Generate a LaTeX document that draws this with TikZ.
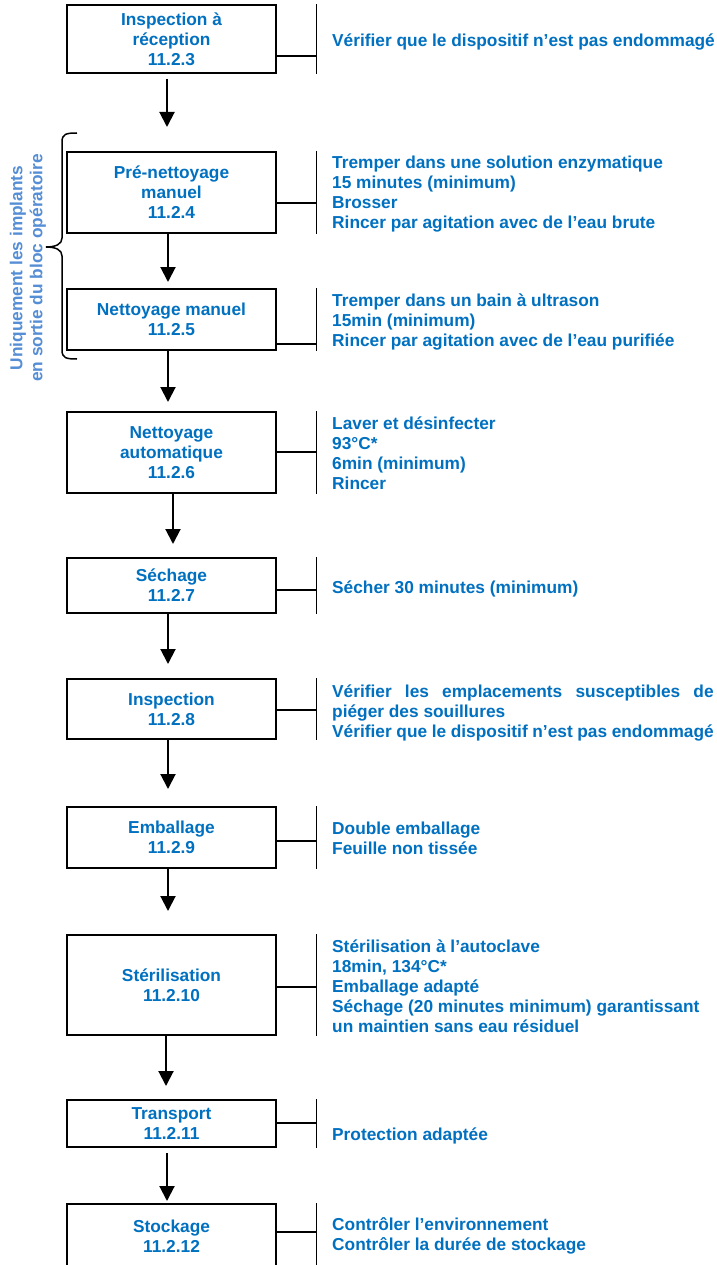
\documentclass[tikz,border=0pt]{standalone}
\usepackage{fontspec}
\setmainfont{Liberation Sans}
\usetikzlibrary{arrows.meta,calc}
\definecolor{txtblue}{RGB}{0,112,192}
\definecolor{sideblue}{RGB}{85,142,213}
\begin{document}
\begin{tikzpicture}[x=1pt,y=-1pt,
  stepbox/.style={draw,line width=2pt,minimum width=209pt,inner sep=0pt,align=center,text=txtblue,font=\fontsize{17.3}{20}\selectfont\bfseries},
  desc/.style={anchor=base west,inner sep=0pt,text=txtblue,font=\fontsize{17.3}{20}\selectfont\bfseries},
  arr/.style={line width=2pt,-{Triangle[length=15pt,width=15pt]}},
  link/.style={line width=1.3pt},
  bar/.style={line width=1pt}]
\clip (0,0) rectangle (716,1265);
\fill[white] (0,0) rectangle (716,1265);

% boxes
\node[stepbox,minimum height=68pt]  (b1)  at (171.5,39)   {Inspection à\\réception\\11.2.3};
\node[stepbox,minimum height=81pt]  (b2)  at (171.5,192.5) {Pré-nettoyage\\manuel\\11.2.4};
\node[stepbox,minimum height=61pt]  (b3)  at (171.5,319.5) {Nettoyage manuel\\11.2.5};
\node[stepbox,minimum height=81pt]  (b4)  at (171.5,452.5) {Nettoyage\\automatique\\11.2.6};
\node[stepbox,minimum height=55pt]  (b5)  at (171.5,585.5) {Séchage\\11.2.7};
\node[stepbox,minimum height=60pt]  (b6)  at (171.5,709)   {Inspection\\11.2.8};
\node[stepbox,minimum height=61pt]  (b7)  at (171.5,837.5) {Emballage\\11.2.9};
\node[stepbox,minimum height=100pt] (b8)  at (171.5,985)   {Stérilisation\\11.2.10};
\node[stepbox,minimum height=47pt]  (b9)  at (171.5,1123.5){Transport\\11.2.11};
\node[stepbox,minimum height=64pt]  (b10) at (171.5,1236)  {Stockage\\11.2.12};

% arrows
\draw[arr,shorten <=5pt,shorten >=24pt] ([xshift=-4.5pt]b1.south) -- ([xshift=-4.5pt]b2.north);
\draw[arr,shorten >=6pt]  ([xshift=-3.5pt]b2.south) -- ([xshift=-3.5pt]b3.north);
\draw[arr,shorten >=9pt]  ([xshift=-3.5pt]b3.south) -- ([xshift=-3.5pt]b4.north);
\draw[arr,shorten >=13pt] ([xshift=1.5pt]b4.south) -- ([xshift=1.5pt]b5.north);
\draw[arr,shorten >=14pt] ([xshift=-3.5pt]b5.south) -- ([xshift=-3.5pt]b6.north);
\draw[arr,shorten >=17pt] ([xshift=-3.5pt]b6.south) -- ([xshift=-3.5pt]b7.north);
\draw[arr,shorten >=23pt] ([xshift=-3.5pt]b7.south) -- ([xshift=-3.5pt]b8.north);
\draw[arr,shorten >=13pt] ([xshift=-5.5pt]b8.south) -- ([xshift=-5.5pt]b9.north);
\draw[arr,shorten <=5pt,shorten >=2pt] ([xshift=-4.5pt]b9.south) -- ([xshift=-4.5pt]b10.north);

% junction points on the side bars
\coordinate (j1)  at (316.5,56);
\coordinate (j2)  at (316.5,203);
\coordinate (j3)  at (316.5,344);
\coordinate (j4)  at (316.5,452);
\coordinate (j5)  at (316.5,590);
\coordinate (j6)  at (316.5,710);
\coordinate (j7)  at (316.5,841);
\coordinate (j8)  at (316.5,987);
\coordinate (j9)  at (316.5,1123);
\coordinate (j10) at (316.5,1232);
\foreach \i in {1,...,10}{
  \draw[link] (b\i.east |- j\i) -- (j\i);
  \draw[bar] (b\i.north -| j\i) -- (b\i.south -| j\i);
}

% descriptions
\node[desc] (d1) at (332,47) {\parbox[t]{384pt}{\raggedright Vérifier que le dispositif n’est pas endommagé}};
\node[desc] (d2) at (332,169) {\parbox[t]{384pt}{\raggedright Tremper dans une solution enzymatique\\15 minutes (minimum)\\Brosser\\Rincer par agitation avec de l’eau brute}};
\node[desc] (d3) at (332,306) {\parbox[t]{384pt}{\raggedright Tremper dans un bain à ultrason\\15min (minimum)\\Rincer par agitation avec de l’eau purifiée}};
\node[desc] (d4) at (332,429) {\parbox[t]{384pt}{\raggedright Laver et désinfecter\\93°C*\\6min (minimum)\\Rincer}};
\node[desc] (d5) at (332,593) {\parbox[t]{384pt}{\raggedright Sécher 30 minutes (minimum)}};
\node[desc] (d6) at (332,697) {\parbox[t]{381.5pt}{Vérifier les emplacements susceptibles de\linebreak piéger des souillures\\Vérifier que le dispositif n’est pas endommagé}};
\node[desc] (d7) at (332,834) {\parbox[t]{384pt}{\raggedright Double emballage\\Feuille non tissée}};
\node[desc] (d8) at (332,952) {\parbox[t]{384pt}{\raggedright Stérilisation à l’autoclave\\18min, 134°C*\\Emballage adapté\\Séchage (20 minutes minimum) garantissant\\un maintien sans eau résiduel}};
\node[desc] (d9) at (332,1140) {\parbox[t]{384pt}{\raggedright Protection adaptée}};
\node[desc] (d10) at (332,1230) {\parbox[t]{384pt}{\raggedright Contrôler l’environnement\\Contrôler la durée de stockage}};

% brace and side label
\draw[line width=1.5pt] (77,133) .. controls (66,133) and (62,134) .. (62,142) -- (62,238)
  .. controls (62,244) and (56,247) .. (46,247) .. controls (56,247) and (62,250) .. (62,256)
  -- (62,350) .. controls (62,358) and (66,359) .. (77,359);
\node[rotate=90,align=center,inner sep=0pt,text=sideblue,font=\fontsize{17.3}{20}\selectfont\bfseries] (side) at (28,268) {Uniquement les implants\\en sortie du bloc opératoire};
\end{tikzpicture}
\end{document}
